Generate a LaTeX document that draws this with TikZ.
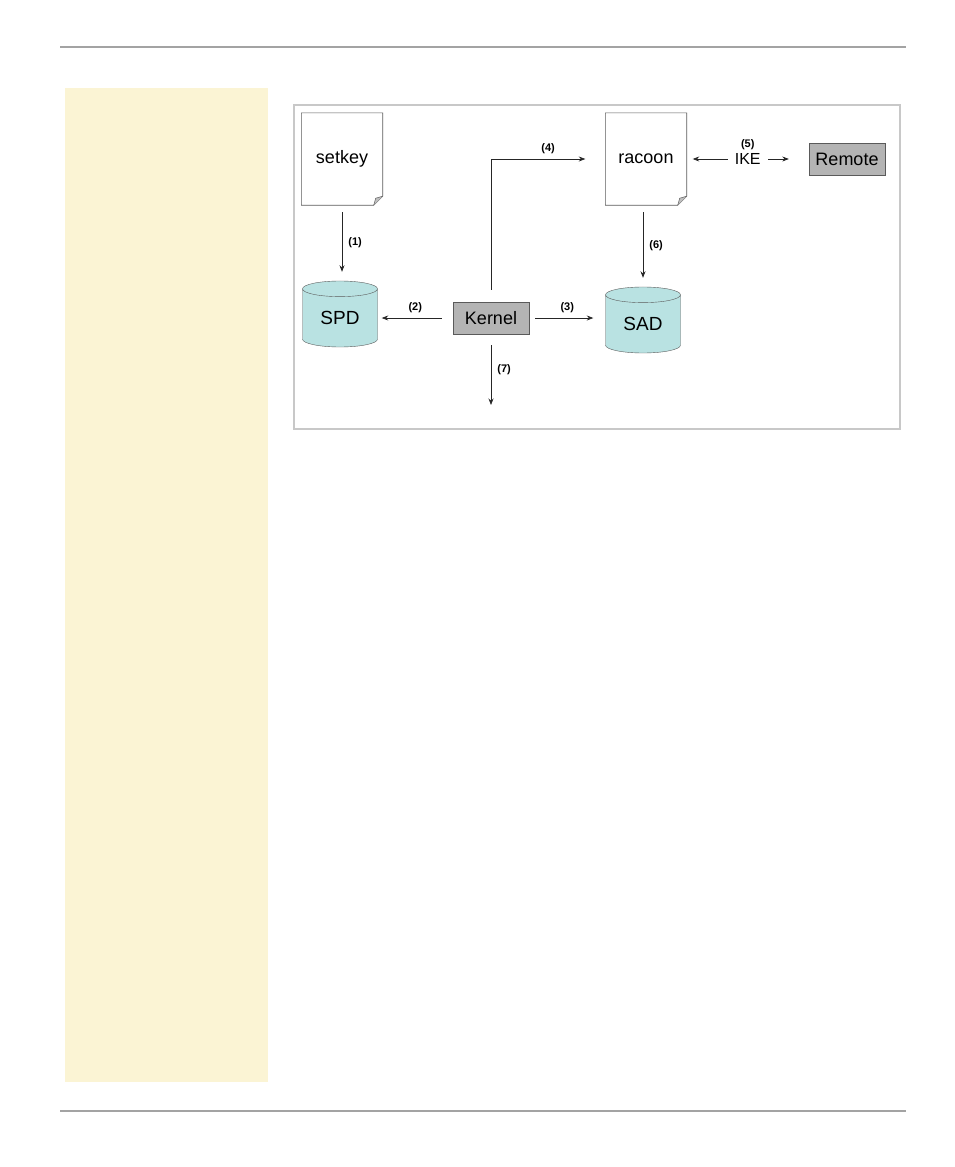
\documentclass[tikz,border=0pt]{standalone}
\usepackage{fontspec}
\setmainfont{Liberation Sans}
\usetikzlibrary{positioning,calc,shapes.geometric,arrows.meta}
\definecolor{panel}{HTML}{FBF4D4}
\definecolor{rulegray}{HTML}{A3A3A3}
\definecolor{framegray}{HTML}{C8C8C8}
\definecolor{dbteal}{HTML}{B9E2E2}
\definecolor{boxgray}{HTML}{B4B4B4}
\definecolor{edgegray}{HTML}{5A5A5A}

\tikzset{
  doc/.style={minimum width=81pt, minimum height=92pt, inner sep=0pt, font=\fontsize{18}{20}\selectfont},
  db/.style={cylinder, shape border rotate=90, aspect=0.4, draw=edgegray, fill=dbteal,
    minimum width=75pt, minimum height=66pt, inner sep=0pt, font=\fontsize{19}{21}\selectfont},
  proc/.style={draw=edgegray, fill=boxgray, minimum width=76pt, minimum height=32pt, inner sep=0pt,
    font=\fontsize{18}{20}\selectfont},
  arr/.style={-{Stealth[length=6.5pt,width=5pt]}, line width=0.75pt, draw=black!85},
  num/.style={font=\bfseries\fontsize{11}{13}\selectfont, inner sep=2pt},
}

% outline of a document node with a turned-down corner
\newcommand{\docoutline}[1]{%
  \draw[edgegray, line width=0.6pt] (#1.north west) -- (#1.north east)
    -- ($(#1.south east)+(0,-9)$) -- ($(#1.south east)+(-9,0)$) -- (#1.south west) -- cycle;
  \draw[edgegray, fill=black!25, line width=0.5pt] ($(#1.south east)+(0,-9)$)
    -- ($(#1.south east)+(-7,-7)$) -- ($(#1.south east)+(-9,0)$);
}

\begin{document}
\begin{tikzpicture}[x=1pt, y=-1pt]
  \useasboundingbox (0,0) rectangle (954,1167);

  % page furniture
  \draw[rulegray, line width=2pt] (60,47) -- (906,47);
  \draw[rulegray, line width=2pt] (60,1111) -- (906,1111);
  \fill[panel] (65,88) rectangle (268,1082);
  \draw[framegray, line width=1.5pt] (294,105) rectangle (900,429);

  % nodes
  \node[doc] (setkey) at (342,159) {setkey};
  \node[doc] (racoon) at (646,159) {racoon};
  \docoutline{setkey}
  \docoutline{racoon}

  \node[proc] (remote) at (847,159) {Remote};
  \node[proc] (kernel) at (491,318) {Kernel};
  \node[db] (spd) at (340,318) {SPD};
  \node[db] (sad) at (643,324) {SAD};
  \coordinate (out) at (491,405);

  % connectors
  \draw[arr, shorten <=7pt, shorten >=9pt] (setkey.south) -- node[num, right=4pt] (l1) {(1)} (setkey.south |- spd.north);
  \draw[arr, shorten <=11pt, shorten >=4pt] (kernel.west) -- node[num, above=3pt] (l2) {(2)} (kernel.west -| spd.east);
  \draw[arr, shorten <=6pt, shorten >=12pt] (kernel.east) -- node[num, above=3pt] (l3) {(3)} (kernel.east -| sad.west);
  \draw[arr, shorten <=12pt, shorten >=20pt] (kernel.north) |- node[num, pos=0.75, above=3pt] (l4) {(4)} (racoon.west);
  \draw[arr, {Stealth[length=6.5pt,width=5pt]}-{Stealth[length=6.5pt,width=5pt]}, shorten <=6pt, shorten >=20pt]
    (racoon.east) -- node[fill=white, inner xsep=7pt, inner ysep=1pt, font=\fontsize{16}{18}\selectfont] (ike) {IKE} (remote.west);
  \node[num, above=0pt of ike] (l5) {(5)};
  \draw[arr, shorten <=7pt, shorten >=9pt] (racoon.south -| sad.north) -- node[num, right=4pt] (l6) {(6)} (sad.north);
  \draw[arr, shorten <=11pt] (kernel.south) -- node[num, right=4pt] (l7) {(7)} (out);
\end{tikzpicture}
\end{document}
